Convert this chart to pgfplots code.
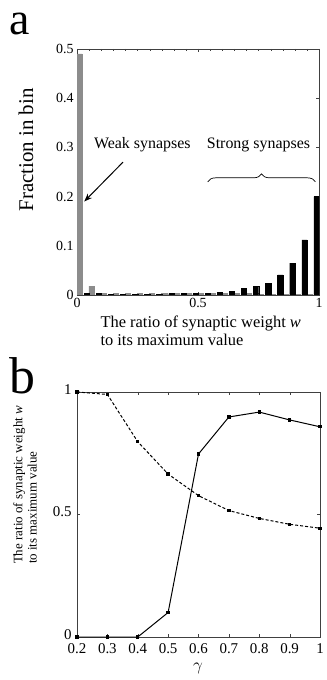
\documentclass[border=0pt]{standalone}
\usepackage{pgfplots}
\pgfplotsset{compat=1.18}
\usepackage{fontspec}
\setmainfont{Liberation Serif}
\usetikzlibrary{decorations.pathreplacing,arrows.meta}
\begin{document}
\begin{tikzpicture}[x=1bp,y=1bp]
\useasboundingbox (0,0) rectangle (326,680);
% panel a
\node[font=\fontsize{46}{46}\selectfont] at (20,656) {a};
\node[rotate=90,font=\fontsize{21}{21}\selectfont] at (26,530) {Fraction in bin};
\node[anchor=north west,align=left,font=\fontsize{16.5}{18}\selectfont] at (97,368) {The ratio of synaptic weight \textit{w}\\to its maximum value};
\begin{axis}[
  at={(77bp,385bp)}, anchor=south west,
  scale only axis, width=242bp, height=246bp,
  xmin=0, xmax=1, ymin=0, ymax=0.5,
  xtick={0,0.5,1}, xticklabels={0,0.5,1},
  minor xtick={0.05,0.1,...,0.95},
  ytick={0,0.1,0.2,0.3,0.4,0.5}, yticklabels={0,0.1,0.2,0.3,0.4,0.5},
  tick align=inside, major tick length=3bp, minor tick length=2bp,
  axis line style={black!75, line width=0.8pt},
  tick style={black!75},
  ticklabel style={font=\fontsize{14}{14}\selectfont},
  /pgf/number format/assume math mode=true,
  clip=true,
]
\addplot[ybar, bar width=0.022, bar shift=0pt, fill=black!45, draw=black!45] coordinates {
(0.01,0.49) (0.06,0.018) (0.11,0.004) (0.16,0.004) (0.21,0.003) (0.26,0.003)
(0.31,0.004) (0.36,0.004) (0.41,0.004) (0.46,0.004) (0.51,0.004) (0.56,0.004)
(0.61,0.004) (0.66,0.003) (0.71,0.003) (0.76,0.002) (0.81,0.002) (0.86,0.002)
(0.91,0.002) (0.96,0.002)
};
\addplot[ybar, bar width=0.022, bar shift=0pt, fill=black, draw=black] coordinates {
(0.04,0.003) (0.09,0.003) (0.14,0.002) (0.19,0.002) (0.24,0.002) (0.29,0.002)
(0.34,0.002) (0.39,0.003) (0.44,0.003) (0.49,0.003) (0.54,0.004) (0.59,0.005)
(0.64,0.008) (0.69,0.013) (0.74,0.017) (0.79,0.024) (0.84,0.041) (0.89,0.065)
(0.94,0.112) (0.99,0.2)
};
\node[font=\fontsize{16}{16}\selectfont] at (axis cs:0.27,0.305) {Weak synapses};
\node[font=\fontsize{16}{16}\selectfont] at (axis cs:0.75,0.305) {Strong synapses};
\draw[-{Stealth[length=8bp,width=6bp]}, line width=1pt] (axis cs:0.19,0.27) -- (axis cs:0.03,0.19);
\draw[decorate, decoration={brace, amplitude=8bp}, line width=0.7pt] (axis cs:0.54,0.23) -- (axis cs:0.985,0.23);
\end{axis}
% panel b
\node[font=\fontsize{52}{52}\selectfont] at (22,304) {b};
\node[rotate=90,align=left,font=\fontsize{13}{14.5}\selectfont] at (25,195) {The ratio of synaptic weight \textit{w}\\to its maximum value};
\node[font=\fontsize{19}{19}\selectfont] at (198,12) {$\gamma$};
\begin{axis}[
  at={(77bp,43bp)}, anchor=south west,
  scale only axis, width=243bp, height=245bp,
  xmin=0.2, xmax=1, ymin=0, ymax=1,
  xtick={0.2,0.3,0.4,0.5,0.6,0.7,0.8,0.9,1},
  xticklabels={0.2,0.3,0.4,0.5,0.6,0.7,0.8,0.9,1},
  ytick={0,0.5,1}, yticklabels={0,0.5,1},
  tick align=inside, major tick length=3bp,
  axis line style={black!75, line width=0.8pt},
  tick style={black!75},
  ticklabel style={font=\fontsize{15}{15}\selectfont},
  xticklabel style={yshift=-3bp},
  yticklabel style={yshift=2.5bp, xshift=-2bp},
  /pgf/number format/assume math mode=true,
  clip=false,
]
\addplot[black, line width=1pt, mark=square*, mark size=1.2bp] coordinates {
(0.2,0) (0.3,0) (0.4,0) (0.5,0.1) (0.6,0.747) (0.7,0.898) (0.8,0.918) (0.9,0.886) (1.0,0.858)
};
\addplot[black, line width=1pt, dash pattern=on 3bp off 2bp, mark=square*, mark size=1.2bp, mark options={solid}] coordinates {
(0.2,1) (0.3,0.99) (0.4,0.797) (0.5,0.665) (0.6,0.577) (0.7,0.516) (0.8,0.484) (0.9,0.46) (1.0,0.444)
};
\end{axis}
\end{tikzpicture}
\end{document}
